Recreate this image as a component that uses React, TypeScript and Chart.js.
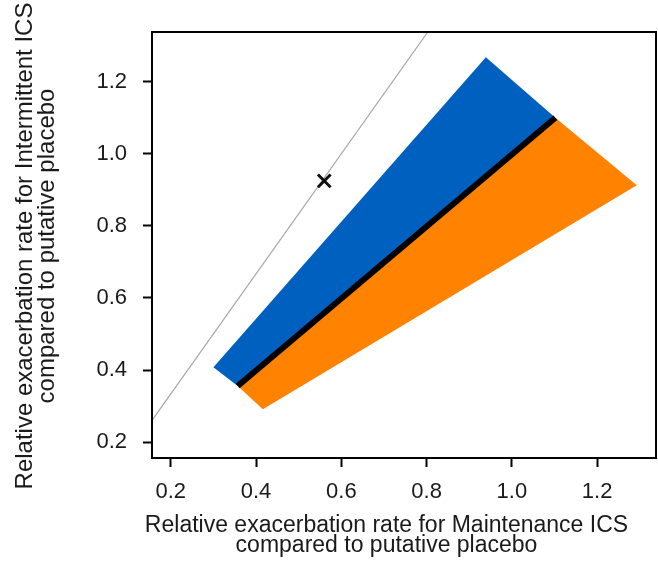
import React, { useEffect, useRef } from "react";
import { Chart, registerables } from "chart.js";

Chart.register(...registerables);

// ---- data ----
const xTickValues = [0.2, 0.4, 0.6, 0.8, 1.0, 1.2];
const yTickValues = [0.2, 0.4, 0.6, 0.8, 1.0, 1.2];
const axisMin = 0.156;
const axisMax = 1.338;

const blueRegionX = [0.3, 0.939, 1.102, 0.357];
const blueRegionY = [0.408, 1.268, 1.1, 0.356];
const orangeRegionX = [0.357, 1.102, 1.293, 0.416];
const orangeRegionY = [0.356, 1.1, 0.913, 0.291];
const equalityLineX = [0.357, 1.102];
const equalityLineY = [0.356, 1.1];
const referenceLineX = [0.1, 0.9];
const referenceLineY = [0.167, 1.5];
const markerX = [0.56];
const markerY = [0.925];

const xTitleLines = [
  "Relative exacerbation rate for Maintenance ICS",
  "compared to putative placebo",
];
const yTitleLines = [
  "Relative exacerbation rate for Intermittent ICS",
  "compared to putative placebo",
];

const toPoints = (xs: number[], ys: number[]) => xs.map((x, i) => ({ x, y: ys[i] }));

const FONT = '"Liberation Sans", Arial, Helvetica, sans-serif';
const TEXT = "#1a1a1a";

const framePlugin = {
  id: "frame",
  afterDatasetsDraw(chart: any) {
    const { ctx, chartArea } = chart;
    ctx.save();
    ctx.strokeStyle = "#000";
    ctx.lineWidth = 2;
    ctx.strokeRect(
      chartArea.left,
      chartArea.top,
      chartArea.right - chartArea.left,
      chartArea.bottom - chartArea.top
    );
    ctx.restore();
  },
};

const titlePlugin = {
  id: "axisTitles",
  afterDraw(chart: any) {
    const { ctx, chartArea } = chart;
    ctx.save();
    ctx.fillStyle = TEXT;
    ctx.textAlign = "center";
    ctx.textBaseline = "alphabetic";
    ctx.font = `23px ${FONT}`;
    const xc = 386.5;
    ctx.fillText(xTitleLines[0], xc, chartArea.bottom + 73.5);
    ctx.fillText(xTitleLines[1], xc, chartArea.bottom + 94);
    ctx.font = `24px ${FONT}`;
    const yc = (chartArea.top + chartArea.bottom) / 2 + 1;
    ctx.translate(32, yc);
    ctx.rotate(-Math.PI / 2);
    ctx.fillText(yTitleLines[0], 0, 0);
    ctx.fillText(yTitleLines[1], 0, 21.5);
    ctx.restore();
  },
};

export default function App() {
  const ref = useRef<HTMLCanvasElement | null>(null);

  useEffect(() => {
    if (!ref.current) return;
    const chart = new Chart(ref.current, {
      type: "scatter",
      data: {
        datasets: [
          {
            label: "reference",
            data: toPoints(referenceLineX, referenceLineY),
            showLine: true,
            borderColor: "#ababab",
            borderWidth: 1.2,
            pointRadius: 0,
            fill: false,
            order: 4,
          },
          {
            label: "intermittent",
            data: toPoints(blueRegionX, blueRegionY),
            showLine: true,
            borderWidth: 0,
            borderColor: "rgba(0,0,0,0)",
            backgroundColor: "#0060bf",
            pointRadius: 0,
            fill: "shape",
            order: 3,
          },
          {
            label: "maintenance",
            data: toPoints(orangeRegionX, orangeRegionY),
            showLine: true,
            borderWidth: 0,
            borderColor: "rgba(0,0,0,0)",
            backgroundColor: "#ff8200",
            pointRadius: 0,
            fill: "shape",
            order: 3,
          },
          {
            label: "equality",
            data: toPoints(equalityLineX, equalityLineY),
            showLine: true,
            borderColor: "#000",
            borderWidth: 6,
            borderCapStyle: "butt",
            pointRadius: 0,
            fill: false,
            order: 1,
          },
          {
            label: "estimate",
            data: toPoints(markerX, markerY),
            showLine: false,
            pointStyle: "crossRot",
            pointRadius: 9,
            borderColor: "#111",
            borderWidth: 3,
            order: 0,
          },
        ],
      } as any,
      plugins: [framePlugin, titlePlugin],
      options: {
        animation: false,
        responsive: false,
        maintainAspectRatio: false,
        layout: { autoPadding: false, padding: { top: 32, right: 2, left: 0, bottom: 0 } },
        plugins: {
          legend: { display: false },
          tooltip: { enabled: false },
        },
        scales: {
          x: {
            type: "linear",
            min: axisMin,
            max: axisMax,
            afterBuildTicks: (s: any) => {
              s.ticks = xTickValues.map((v) => ({ value: v }));
            },
            afterFit: (s: any) => {
              s.height = 103;
              s.paddingLeft = 0;
              s.paddingRight = 0;
            },
            grid: {
              display: true,
              drawOnChartArea: false,
              drawTicks: true,
              tickLength: 9,
              tickWidth: 2,
              tickColor: "#000",
            },
            border: { display: true, color: "#000", width: 2 },
            ticks: {
              includeBounds: false,
              autoSkip: false,
              maxRotation: 0,
              padding: 12,
              color: TEXT,
              font: { family: FONT, size: 22 },
              callback: (v: any) => Number(v).toFixed(1),
            },
          },
          y: {
            type: "linear",
            min: axisMin,
            max: axisMax,
            afterBuildTicks: (s: any) => {
              s.ticks = yTickValues.map((v) => ({ value: v }));
            },
            afterFit: (s: any) => {
              s.width = 152;
              s.paddingTop = 0;
              s.paddingBottom = 0;
            },
            grid: {
              display: true,
              drawOnChartArea: false,
              drawTicks: true,
              tickLength: 9,
              tickWidth: 2,
              tickColor: "#000",
            },
            border: { display: true, color: "#000", width: 2 },
            ticks: {
              includeBounds: false,
              autoSkip: false,
              padding: 16,
              color: TEXT,
              font: { family: FONT, size: 22 },
              callback: (v: any) => Number(v).toFixed(1),
            },
          },
        },
      } as any,
    });
    return () => chart.destroy();
  }, []);

  return (
    <div style={{ position: "absolute", left: 0, top: 0, width: 658, height: 561, background: "#fff" }}>
      <canvas ref={ref} width={658} height={561} style={{ display: "block" }} />
    </div>
  );
}
